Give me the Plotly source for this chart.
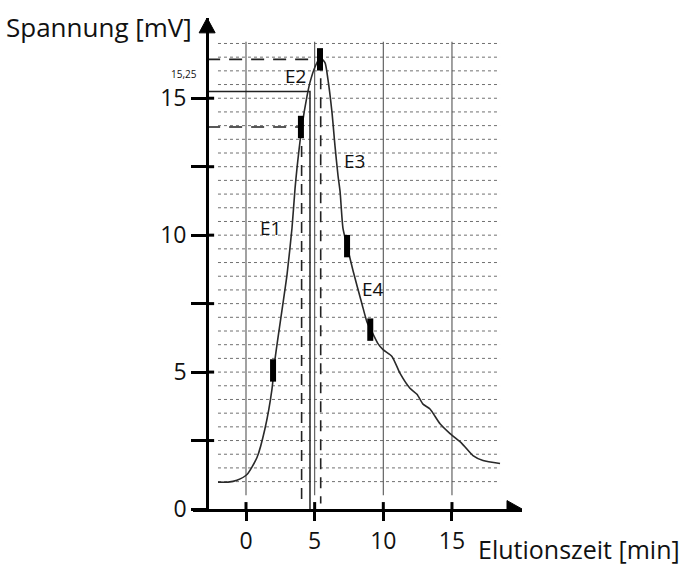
import numpy as np
import plotly.graph_objects as go

# ---------------- data ----------------
time_min = [-2.04, -1.3, -0.66, 0.07, 0.8, 1.38, 1.89, 2.11, 2.62, 2.99, 3.35, 3.57, 3.71,
            4.08, 4.44, 4.66, 5.03, 5.39, 5.75, 5.97, 6.26, 6.48, 6.7, 6.85, 7.06, 7.36,
            7.79, 8.45, 8.81, 9.1, 9.61, 9.98, 10.63, 11.22, 11.94, 12.45, 12.89, 13.4,
            14.13, 14.86, 15.73, 16.53, 17.26, 18.5]
voltage_mv = [0.98, 0.98, 1.05, 1.26, 1.88, 2.93, 4.37, 5.46, 7.26, 8.57, 10.26, 11.7, 12.43,
              13.99, 15.07, 15.58, 16.15, 16.48, 16.3, 15.68, 14.49, 13.26, 12.18, 11.6, 10.26,
              9.61, 8.71, 7.48, 6.83, 6.54, 6.04, 5.82, 5.57, 4.95, 4.41, 4.19, 3.83, 3.65,
              3.11, 2.75, 2.39, 1.95, 1.77, 1.66]

marker_time = [1.97, 4.0, 5.39, 7.36, 9.05]
marker_mv = [5.06, 13.95, 16.42, 9.6, 6.55]

label_text = ["E1", "E2", "E3", "E4"]
label_time = [1.75, 3.57, 7.87, 9.25]
label_mv = [10.26, 15.81, 12.72, 8.02]

x_tick_vals = [0, 5, 10, 15]
x_tick_text = ["0", "5", "10", "15"]
y_tick_vals = [0, 2.5, 5, 7.5, 10, 12.5, 15]
y_tick_text = ["0", "", "5", "", "10", "", "15"]

ref_solid_mv = 15.25
ref_solid_time = 4.66
ref_solid_label = "15,25"
dashed_levels_mv = [16.42, 13.95]
dashed_times = [5.44, 4.05]

grid_y = list(np.arange(1.0, 17.01, 0.5))
grid_x = [0, 5, 10, 15]
grid_x_span = [-2.04, 18.5]
grid_y_span = [0.5, 17.06]

x_title = "Elutionszeit [min]"
y_title = "Spannung [mV]"

# ---------------- layout geometry ----------------
W, H = 681, 568
L, R, T, B = 193, 159, 18, 54
X_RANGE = [-3.86, 20.1]
Y_RANGE = [0.0, 17.93]
Y_AXIS_X = -2.83
PW, PH = W - L - R, H - T - B
px_x = PW / (X_RANGE[1] - X_RANGE[0])   # pixels per minute
px_y = PH / (Y_RANGE[1] - Y_RANGE[0])   # pixels per mV


def paper_x(px):
    return (px - L) / PW


def paper_y(py):
    return (H - B - py) / PH


FONT = "Open Sans"

fig = go.Figure()

# horizontal grid (dotted, from chart paper)
gx, gy = [], []
for v in grid_y:
    gx += [grid_x_span[0], grid_x_span[1], None]
    gy += [v, v, None]
fig.add_trace(go.Scatter(x=gx, y=gy, mode="lines", hoverinfo="skip",
                         line=dict(color="#707070", width=1, dash="dot")))
# vertical grid
vx, vy = [], []
for v in grid_x:
    vx += [v, v, None]
    vy += [grid_y_span[0], grid_y_span[1], None]
fig.add_trace(go.Scatter(x=vx, y=vy, mode="lines", hoverinfo="skip",
                         line=dict(color="#555555", width=1.1)))

# solid reference lines (15,25)
fig.add_trace(go.Scatter(x=[Y_AXIS_X, ref_solid_time, ref_solid_time],
                         y=[ref_solid_mv, ref_solid_mv, 0],
                         mode="lines", line=dict(color="#222222", width=1.5)))
# dashed reference lines
for lvl, t in zip(dashed_levels_mv, dashed_times):
    fig.add_trace(go.Scatter(x=[Y_AXIS_X, t], y=[lvl, lvl], mode="lines",
                             line=dict(color="#222222", width=1.6, dash="13px,9px")))
    fig.add_trace(go.Scatter(x=[t, t], y=[lvl, 0.2], mode="lines",
                             line=dict(color="#222222", width=1.6, dash="11px,8px")))

# elution curve
fig.add_trace(go.Scatter(x=time_min, y=voltage_mv, mode="lines",
                         line=dict(color="#2a2a2a", width=1.6, shape="spline", smoothing=0.6)))

# fraction markers
fig.add_trace(go.Scatter(x=marker_time, y=marker_mv, mode="markers",
                         marker=dict(symbol="line-ns", size=16,
                                     line=dict(color="black", width=6))))

# E labels
for txt, xv, yv in zip(label_text, label_time, label_mv):
    fig.add_annotation(x=xv, y=yv, text=txt, showarrow=False,
                       xanchor="center", yanchor="middle",
                       font=dict(family=FONT, size=19, color="#111111"))

fig.add_annotation(xref="paper", yref="paper", x=paper_x(184), y=paper_y(75),
                   text=ref_solid_label, showarrow=False,
                   xanchor="center", yanchor="middle",
                   font=dict(family=FONT, size=10, color="#111111"))

# axis titles
fig.add_annotation(xref="paper", yref="paper", x=paper_x(194), y=paper_y(27),
                   text=y_title, showarrow=False, xanchor="right", yanchor="middle",
                   font=dict(family=FONT, size=26, color="#111111"))
fig.add_annotation(xref="paper", yref="paper", x=paper_x(682), y=paper_y(554),
                   text=x_title, showarrow=False, xanchor="right", yanchor="middle",
                   font=dict(family=FONT, size=25, color="#111111"))

# inner halves of the crossing ticks
for v in x_tick_vals:
    fig.add_shape(type="line", x0=v, x1=v, y0=0, y1=7 / px_y,
                  line=dict(color="black", width=3))
for v in y_tick_vals[1:]:
    fig.add_shape(type="line", x0=Y_AXIS_X, x1=Y_AXIS_X + 7 / px_x, y0=v, y1=v,
                  line=dict(color="black", width=3))

# arrow heads
xa_base = X_RANGE[1] - 15 / px_x
fig.add_shape(type="path",
              path=f"M {xa_base} {8.5/px_y} L {X_RANGE[1]} 0 L {xa_base} {-8.5/px_y} Z",
              fillcolor="black", line=dict(color="black", width=1))
ya_base = Y_RANGE[1] - 15 / px_y
fig.add_shape(type="path",
              path=f"M {Y_AXIS_X - 8/px_x} {ya_base} L {Y_AXIS_X} {Y_RANGE[1]} L {Y_AXIS_X + 8/px_x} {ya_base} Z",
              fillcolor="black", line=dict(color="black", width=1))

fig.update_layout(
    width=W, height=H, margin=dict(l=L, r=R, t=T, b=B, pad=0),
    paper_bgcolor="white", plot_bgcolor="white", showlegend=False,
    xaxis=dict(range=X_RANGE, showgrid=False, zeroline=False, showline=True,
               linecolor="black", linewidth=3, ticks="outside", ticklen=9, tickwidth=3,
               tickcolor="black", tickvals=x_tick_vals, ticktext=x_tick_text,
               tickfont=dict(family=FONT, size=23, color="#111111"), fixedrange=True),
    yaxis=dict(range=Y_RANGE, showgrid=False, zeroline=False, showline=True,
               linecolor="black", linewidth=3, ticks="outside", ticklen=15, tickwidth=3,
               tickcolor="black", tickvals=y_tick_vals, ticktext=y_tick_text,
               anchor="free", position=(Y_AXIS_X - X_RANGE[0]) / (X_RANGE[1] - X_RANGE[0]),
               tickfont=dict(family=FONT, size=23, color="#111111"), fixedrange=True),
)

fig.write_html("out.html")
